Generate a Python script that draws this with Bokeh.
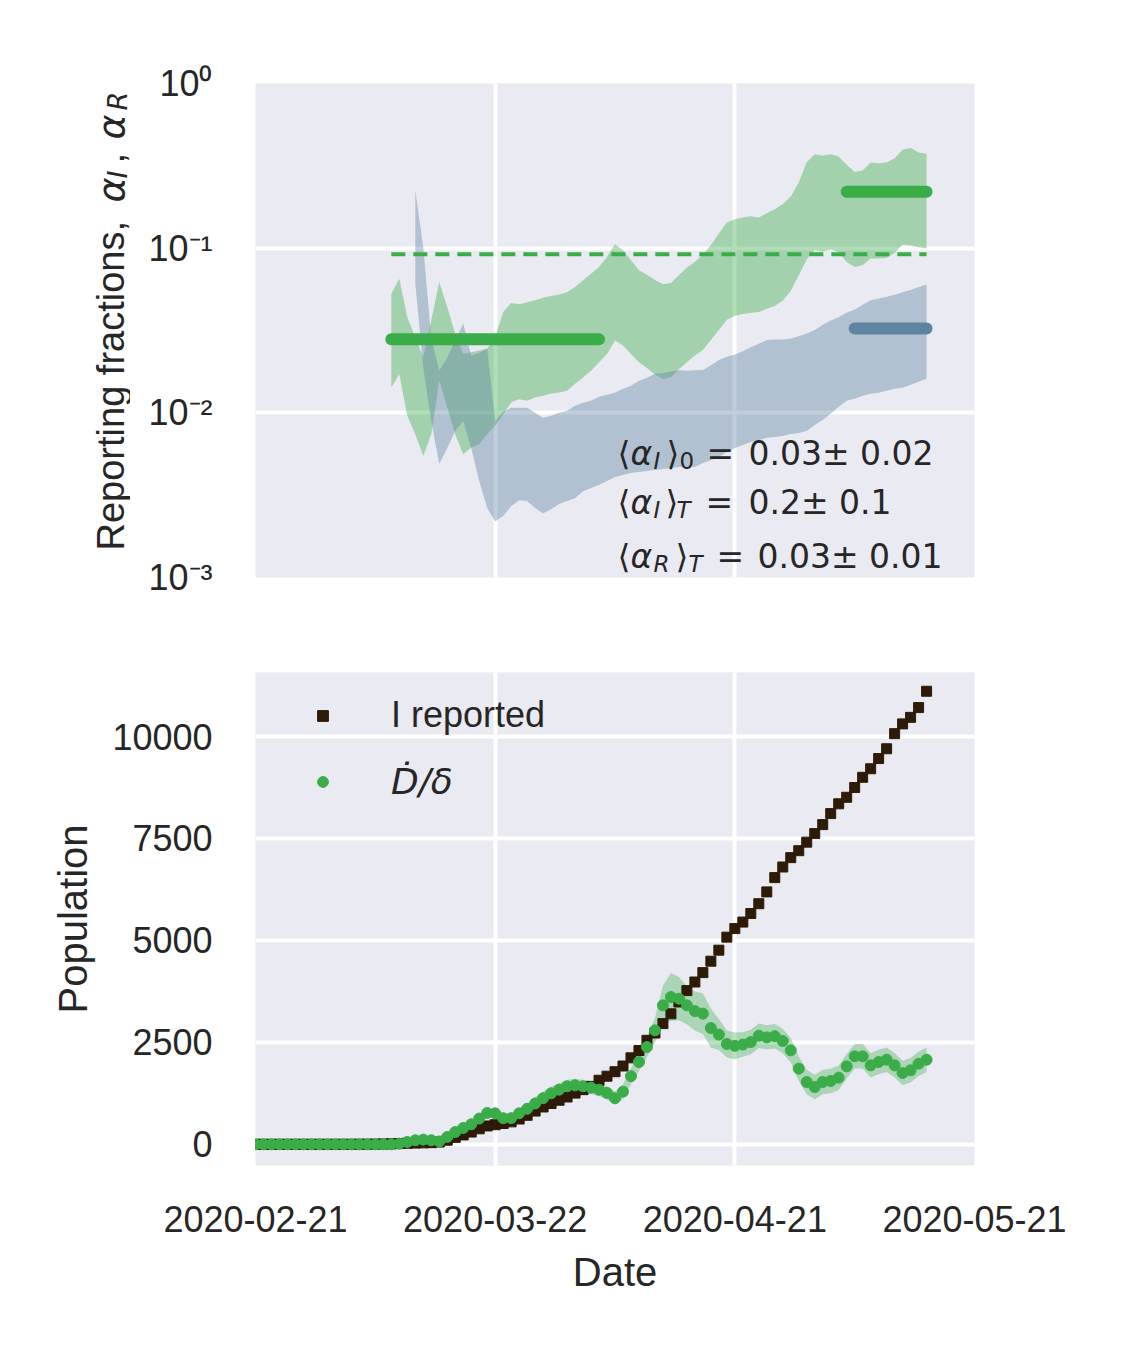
import numpy as np
import pandas as pd
from datetime import datetime
from bokeh.plotting import figure
from bokeh.layouts import column, row
from bokeh.models import (Range1d, FixedTicker, CustomJSTickFormatter, DatetimeTickFormatter,
                          Label, Legend, LegendItem)
from bokeh.embed import file_html
from bokeh.resources import INLINE

# ---------------- data ----------------
START = "2020-02-21"
N_DAYS = 85
GREEN_BAND_START = "2020-03-09"
BLUE_BAND_START = "2020-03-12"
X_TICKS = ["2020-02-21", "2020-03-22", "2020-04-21", "2020-05-21"]
X_END = "2020-05-21"
Y_TICKS_TOP = [0.001, 0.01, 0.1, 1.0]
Y_TICKS_BOTTOM = [0, 2500, 5000, 7500, 10000]

# alpha_I band (green), daily from 2020-03-09
green_hi = [0.0529, 0.0653, 0.0381, 0.0288, 0.0217, 0.0364, 0.0623, 0.0439, 0.0302, 0.0228,
            0.0233, 0.0239, 0.0245, 0.0288, 0.0409, 0.0464, 0.0456, 0.0469, 0.0482, 0.0500,
            0.0512, 0.0524, 0.0539, 0.0581, 0.0638, 0.0700, 0.0769, 0.0885, 0.1057, 0.0972,
            0.0845, 0.0734, 0.069, 0.064, 0.0603, 0.0615, 0.0684, 0.0762, 0.0825, 0.0915,
            0.1043, 0.1229, 0.1434, 0.1496, 0.1538, 0.156, 0.1538, 0.1627, 0.1721, 0.1854,
            0.2056, 0.2502, 0.3328, 0.3724, 0.3639, 0.3724, 0.3605, 0.3207, 0.2906, 0.2961,
            0.3313, 0.3282, 0.3313, 0.3522, 0.3959, 0.4053, 0.3814, 0.3743]
green_lo = [0.01426, 0.0172, 0.00959, 0.00741, 0.00547, 0.00741, 0.01567, 0.01077, 0.00741, 0.0056,
            0.00615, 0.00644, 0.00741, 0.00834, 0.00982, 0.01156, 0.0121, 0.01183, 0.0124, 0.0127,
            0.0131, 0.0133, 0.0136, 0.0150, 0.0164, 0.0180, 0.0203, 0.0228, 0.0275, 0.0256,
            0.0228, 0.0203, 0.0187, 0.0171, 0.01604, 0.01642, 0.01837, 0.02028, 0.02226, 0.0241,
            0.02773, 0.0319, 0.03673, 0.03867, 0.03977, 0.04052, 0.0409, 0.04286, 0.04449, 0.04818,
            0.05492, 0.0684, 0.0857, 0.0972, 0.0954, 0.0981, 0.0945, 0.0825, 0.0769, 0.0787,
            0.0865, 0.0865, 0.0873, 0.0936, 0.1053, 0.1043, 0.1014, 0.0996]
# alpha_R band (blue), daily from 2020-03-12
blue_hi = [0.226, 0.101, 0.0286, 0.0180, 0.0216, 0.0275, 0.0349, 0.0223, 0.0232, 0.0245,
           0.00893, 0.01014, 0.01072, 0.01072, 0.01072, 0.0100, 0.00933, 0.00959, 0.0100, 0.01028,
           0.01104, 0.01151, 0.01183, 0.01253, 0.01288, 0.01324, 0.0140, 0.01462, 0.01567, 0.01633,
           0.0173, 0.01746, 0.01786, 0.01811, 0.0180, 0.01811, 0.0182, 0.01936, 0.02094, 0.02188,
           0.0226, 0.02366, 0.0250, 0.02624, 0.02773, 0.02786, 0.02786, 0.02825, 0.02917, 0.03034,
           0.0319, 0.03428, 0.0364, 0.0381, 0.0405, 0.04246, 0.0454, 0.0482, 0.0495, 0.0507,
           0.0522, 0.0539, 0.0557, 0.0581, 0.0601]
blue_lo = [0.0612, 0.0188, 0.00893, 0.00489, 0.00612, 0.00777, 0.00893, 0.00612, 0.00385, 0.00264,
           0.00219, 0.00236, 0.00271, 0.00295, 0.00291, 0.00264, 0.00245, 0.0026, 0.00279, 0.00291,
           0.00303, 0.00334, 0.00349, 0.00364, 0.00385, 0.00407, 0.00419, 0.00431, 0.00437, 0.00443,
           0.00449, 0.00456, 0.00462, 0.00469, 0.00469, 0.00469, 0.00495, 0.00516, 0.0054, 0.00578,
           0.00612, 0.00638, 0.00665, 0.00684, 0.00705, 0.00714, 0.00724, 0.00745, 0.00755, 0.00777,
           0.00845, 0.00906, 0.00986, 0.01089, 0.01183, 0.01216, 0.0127, 0.01306, 0.01324, 0.01361,
           0.0140, 0.0142, 0.01483, 0.01545, 0.0161]

# mean reporting fractions (segments)
alpha_I0_dates = ["2020-03-09", "2020-04-04"]
alpha_I0 = 0.028
alpha_IT_dates = ["2020-05-05", "2020-05-15"]
alpha_IT = 0.22
alpha_RT_dates = ["2020-05-06", "2020-05-15"]
alpha_RT = 0.0325
alpha_I_all_dates = ["2020-03-09", "2020-05-15"]
alpha_I_all = 0.092

# bottom panel, daily from 2020-02-21
i_reported = [0, 0, 0, 0, 0, 0, 0, 0, 0, 0,
              0, 0, 0, 2, 3, 5, 8, 12, 18, 25,
              30, 35, 40, 55, 100, 170, 230, 300, 380, 450,
              480, 510, 550, 620, 710, 815, 915, 1000, 1080, 1160,
              1255, 1340, 1420, 1570, 1670, 1780, 1920, 2120, 2300, 2550,
              2730, 2960, 3200, 3490, 3770, 3980, 4210, 4490, 4760, 5080,
              5290, 5450, 5660, 5900, 6190, 6540, 6800, 7030, 7200, 7410,
              7620, 7840, 8110, 8350, 8510, 8750, 9000, 9210, 9460, 9700,
              10070, 10310, 10470, 10710, 11110]
d_over_delta = [0, 0, 0, 0, 0, 0, 0, 0, 0, 0,
                0, 0, 0, 0, 0, 0, 0, 0, 15, 57,
                98, 114, 98, 70, 180, 300, 400, 490, 630, 768,
                760, 640, 640, 760, 870, 1000, 1130, 1250, 1340, 1422,
                1446, 1422, 1389, 1340, 1260, 1130, 1290, 1670, 2018, 2386,
                2794, 3407, 3611, 3570, 3407, 3268, 3203, 2851, 2690, 2460,
                2414, 2446, 2508, 2663, 2622, 2651, 2533, 2304, 1855, 1528,
                1405, 1528, 1552, 1634, 1912, 2157, 2157, 1936, 2018, 2075,
                1936, 1748, 1814, 1977, 2075]
d_over_delta_err = [5, 5, 5, 5, 5, 5, 5, 5, 5, 5,
                    5, 5, 5, 5, 5, 5, 5, 10, 20, 20,
                    20, 20, 20, 20, 40, 50, 60, 70, 80, 90,
                    110, 110, 110, 110, 110, 160, 160, 160, 160, 160,
                    160, 160, 160, 160, 160, 160, 180, 200, 220, 250,
                    300, 490, 590, 530, 470, 480, 500, 480, 380, 330,
                    330, 300, 300, 300, 300, 300, 300, 300, 300, 300,
                    300, 300, 300, 300, 300, 300, 300, 300, 300, 300,
                    300, 300, 300, 300, 300]

# ---------------- styling ----------------
BG = "#EAEAF2"
GREEN = "#3AAD48"
BLUE = "#5E84A2"
BROWN = "#2E1B07"
TXT = "#262626"
SANS = "Liberation Sans"
MATH = "DejaVu Sans"

LBL_W = 130          # width of the strip holding the top y-axis title
FRAME_TOP = 83
FRAME_H1 = 494
FRAME_BOT1 = FRAME_TOP + FRAME_H1   # 577

dates = pd.date_range(START, periods=N_DAYS, freq="D")
g_dates = pd.date_range(GREEN_BAND_START, periods=len(green_hi), freq="D")
b_dates = pd.date_range(BLUE_BAND_START, periods=len(blue_hi), freq="D")
xt_ms = [pd.Timestamp(d).value / 1e6 for d in X_TICKS]

xr = Range1d(start=datetime.strptime(START, "%Y-%m-%d"), end=datetime.strptime(X_END, "%Y-%m-%d"))


def style(p):
    p.background_fill_color = BG
    p.border_fill_color = "white"
    p.outline_line_color = None
    for g in (p.xgrid, p.ygrid):
        g.grid_line_color = "white"
        g.grid_line_width = 4
    for ax in (p.xaxis, p.yaxis):
        ax.axis_line_color = None
        ax.major_tick_line_color = None
        ax.minor_tick_line_color = None
        ax.major_tick_out = 0
        ax.major_tick_in = 0
        ax.major_label_text_font = SANS
        ax.major_label_text_font_size = "36px"
        ax.major_label_text_color = TXT
        ax.axis_label_text_font = SANS
        ax.axis_label_text_font_size = "40px"
        ax.axis_label_text_font_style = "normal"
        ax.axis_label_text_color = TXT


def lab(p, text, x, y, size, font=MATH, fstyle="normal", angle=0.0):
    p.add_layout(Label(x=x, y=y, x_units="screen", y_units="screen", text=text,
                       text_font=font, text_font_size=f"{size}px", text_font_style=fstyle,
                       text_color=TXT, angle=angle, text_align="left",
                       text_baseline="alphabetic"))


# ---------------- strip with the top y-axis title ----------------
# its frame is aligned with the top panel's frame (page y 83..577)
lbl = figure(frame_width=LBL_W, frame_height=FRAME_H1, min_border=0,
             min_border_top=FRAME_TOP, min_border_bottom=95,
             x_axis_location=None, y_axis_location=None, toolbar_location=None,
             output_backend="svg", x_range=Range1d(0, 1), y_range=Range1d(0, 1))
lbl.outline_line_color = None
lbl.background_fill_color = "white"
lbl.border_fill_color = "white"
lbl.grid.visible = False
A = np.pi / 2
lab(lbl, "Reporting fractions, ", 110, FRAME_BOT1 - 550, 38, font=SANS, angle=A)
lab(lbl, "\u03b1", 110, FRAME_BOT1 - 202, 38, fstyle="italic", angle=A)
lab(lbl, "I", 117, FRAME_BOT1 - 178, 27, fstyle="italic", angle=A)
lab(lbl, ", ", 110, FRAME_BOT1 - 163, 38, font=SANS, angle=A)
lab(lbl, "\u03b1", 110, FRAME_BOT1 - 139, 38, fstyle="italic", angle=A)
lab(lbl, "R", 117, FRAME_BOT1 - 110, 27, fstyle="italic", angle=A)

# ---------------- top panel ----------------
p1 = figure(x_axis_type="datetime", y_axis_type="log", x_range=xr,
            y_range=Range1d(1e-3, 1.0), frame_width=719, frame_height=FRAME_H1,
            min_border_left=255 - LBL_W, min_border_right=110, min_border_top=FRAME_TOP,
            min_border_bottom=95, output_backend="svg", toolbar_location=None)
style(p1)
p1.xaxis.visible = False
p1.xgrid.ticker = FixedTicker(ticks=xt_ms)
p1.yaxis.ticker = FixedTicker(ticks=Y_TICKS_TOP)
p1.ygrid.ticker = FixedTicker(ticks=Y_TICKS_TOP)
p1.yaxis.major_label_standoff = 43
p1.yaxis.formatter = CustomJSTickFormatter(code="""
const e = Math.round(Math.log10(tick));
const sup = {"0":"\u2070","1":"\u00b9","2":"\u00b2","3":"\u00b3","-":"\u207b"};
return "10" + String(e).split("").map(c => sup[c]).join("");
""")

p1.varea(x=g_dates, y1=green_lo, y2=green_hi, fill_color=GREEN, fill_alpha=0.4)
p1.varea(x=b_dates, y1=blue_lo, y2=blue_hi, fill_color=BLUE, fill_alpha=0.4)
p1.line(x=pd.to_datetime(alpha_I_all_dates), y=[alpha_I_all] * 2, line_color=GREEN,
        line_width=4, line_dash="14 8")
p1.line(x=pd.to_datetime(alpha_I0_dates), y=[alpha_I0] * 2, line_color=GREEN,
        line_width=12, line_cap="round")
p1.line(x=pd.to_datetime(alpha_IT_dates), y=[alpha_IT] * 2, line_color=GREEN,
        line_width=12, line_cap="round")
p1.line(x=pd.to_datetime(alpha_RT_dates), y=[alpha_RT] * 2, line_color=BLUE,
        line_width=12, line_cap="round")

# annotation rows (frame-relative screen px)
M, S = 33, 23
rows = [
    (124, [("\u27e8", 362, 0, "normal"), ("\u03b1", 375, 0, "italic"), ("I", 398, 1, "italic"),
           ("\u27e9", 411, 0, "normal"), ("0", 424, 1, "normal"), ("=", 451, 0, "normal"),
           ("0.03\u00b1 0.02", 493, 0, "normal")]),
    (75, [("\u27e8", 362, 0, "normal"), ("\u03b1", 375, 0, "italic"), ("I", 398, 1, "italic"),
          ("\u27e9", 410, 0, "normal"), ("T", 421, 1, "italic"), ("=", 450, 0, "normal"),
          ("0.2\u00b1 0.1", 493, 0, "normal")]),
    (21, [("\u27e8", 362, 0, "normal"), ("\u03b1", 375, 0, "italic"), ("R", 398, 1, "italic"),
          ("\u27e9", 420, 0, "normal"), ("T", 433, 1, "italic"), ("=", 461, 0, "normal"),
          ("0.03\u00b1 0.01", 502, 0, "normal")]),
]
for base, pieces in rows:
    for t, x, sub, fs in pieces:
        lab(p1, t, x, base - 7 if sub else base, S if sub else M, fstyle=fs)

# ---------------- bottom panel ----------------
p2 = figure(x_axis_type="datetime", x_range=xr, y_range=Range1d(-520, 11570),
            frame_width=719, frame_height=493, min_border_left=255, min_border_right=110,
            min_border_top=0, min_border_bottom=150, output_backend="svg",
            toolbar_location=None)
style(p2)
p2.xaxis.ticker = FixedTicker(ticks=xt_ms)
p2.xgrid.ticker = FixedTicker(ticks=xt_ms)
p2.xaxis.formatter = DatetimeTickFormatter(days="%Y-%m-%d", months="%Y-%m-%d",
                                           years="%Y-%m-%d", strip_leading_zeros=False)
p2.yaxis.ticker = FixedTicker(ticks=Y_TICKS_BOTTOM)
p2.ygrid.ticker = FixedTicker(ticks=Y_TICKS_BOTTOM)
p2.xaxis.major_label_standoff = 40
p2.yaxis.major_label_standoff = 43
p2.xaxis.axis_label = "Date"
p2.xaxis.axis_label_standoff = 15
p2.yaxis.axis_label = "Population"
p2.yaxis.axis_label_standoff = 14

dd = np.array(d_over_delta, dtype=float)
de = np.array(d_over_delta_err, dtype=float)
p2.varea(x=dates, y1=dd - de, y2=dd + de, fill_color=GREEN, fill_alpha=0.35)
r_sq = p2.scatter(x=dates, y=i_reported, marker="square", size=10, color=BROWN)
r_dot = p2.scatter(x=dates, y=d_over_delta, marker="circle", size=11, color=GREEN)

for label, rend, loc, font, fs in [("I reported", r_sq, (54, 429), SANS, "normal"),
                                   ("\u1e0a/\u03b4", r_dot, (54, 363), MATH, "italic")]:
    leg = Legend(items=[LegendItem(label=label, renderers=[rend])], location=loc,
                 glyph_width=27, glyph_height=27, label_standoff=55, label_height=27,
                 padding=0, margin=0, spacing=0, background_fill_alpha=0,
                 border_line_alpha=0, label_text_font=font, label_text_font_style=fs,
                 label_text_font_size="36px", label_text_color=TXT)
    p2.add_layout(leg)

layout = column(row(lbl, p1), p2)
open("out.html", "w").write(file_html(layout, INLINE))
